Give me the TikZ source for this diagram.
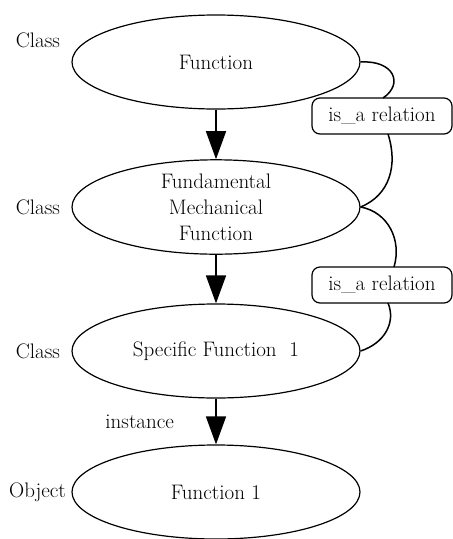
\documentclass[tikz,border=0pt]{standalone}
\usepackage{fontspec}
\setmainfont{Latin Modern Roman}
\usetikzlibrary{shapes.geometric,arrows.meta}
\begin{document}
\begin{tikzpicture}[x=1pt,y=-1pt,
  txt/.style={font=\fontsize{21}{26}\selectfont},
  cls/.style={ellipse,draw,line width=1.2pt,minimum width=288pt,minimum height=94pt,inner sep=0pt,txt,align=center},
  isa/.style={draw,line width=1.2pt,rounded corners=8pt,minimum width=140pt,minimum height=36pt,inner sep=0pt,txt},
  link/.style={line width=1.5pt},
  down/.style={line width=1.6pt,-{Triangle[length=28pt,width=20pt]}}
]
\useasboundingbox (0,0) rectangle (453,539);

% class hierarchy
\node[cls] (fn)   at (216,62)  {Function};
\node[cls] (fmf)  at (216,207) {Fundamental\\Mechanical\\Function};
\node[cls] (sf)   at (216,351) {Specific Function~~1};
\node[cls] (f1)   at (216,492) {Function 1};

% kind labels on the left
\node[txt,anchor=east] (k1) at ([yshift=22pt,xshift=-8pt]fn.west)  {Class};
\node[txt,anchor=east] (k2) at ([xshift=-8pt]fmf.west) {Class};
\node[txt,anchor=east] (k3) at ([xshift=-8pt]sf.west)  {Class};
\node[txt,anchor=east] (k4) at ([xshift=-2pt]f1.west)  {Object};

% generalisation arrows
\draw[down] (fn.south) -- (fmf.north);
\draw[down] (fmf.south) -- (sf.north);
\draw[down] (sf.south) -- node[txt,left=38pt] (inst) {instance} (f1.north);

% is_a relation boxes
\node[isa] (r1) at (382,116) {is\_a relation};
\node[isa] (r2) at (382,285) {is\_a relation};

\coordinate (r1t) at (383,98);
\coordinate (r1b) at (388,134);
\coordinate (r2t) at (394,267);
\coordinate (r2b) at (388,303);

\draw[link] (fn.east)  .. controls (394,60)  and (404,84)  .. (r1t);
\draw[link] (r1b)      .. controls (398,165) and (390,195) .. (fmf.east);
\draw[link] (fmf.east) .. controls (388,212) and (402,240) .. (r2t);
\draw[link] (r2b)      .. controls (396,322) and (385,343) .. (sf.east);
\end{tikzpicture}
\end{document}
